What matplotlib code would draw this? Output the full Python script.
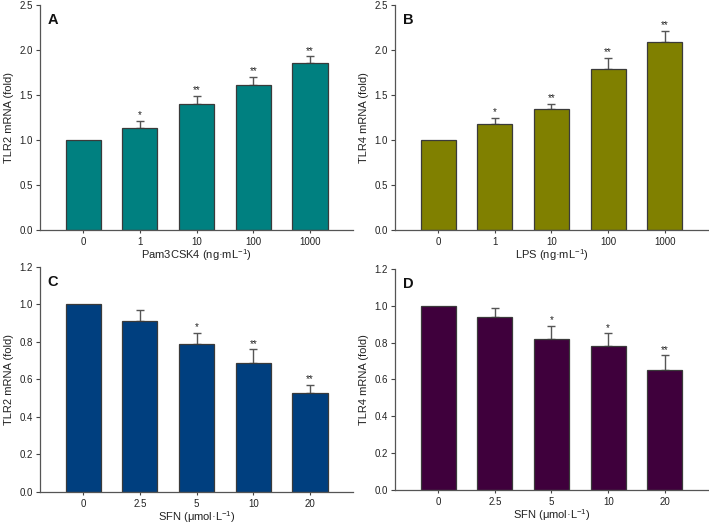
import matplotlib
matplotlib.use("Agg")
import matplotlib.pyplot as plt
import numpy as np

plt.rcParams['font.family'] = ['Liberation Sans', 'DejaVu Sans']
plt.rcParams['mathtext.fontset'] = 'custom'
plt.rcParams['mathtext.rm'] = 'Liberation Sans'
plt.rcParams['mathtext.it'] = 'Liberation Sans:italic'

# Panel A
cats_a = ["0", "1", "10", "100", "1000"]
vals_a = [1.0, 1.13, 1.40, 1.61, 1.86]
err_a = [0.0, 0.08, 0.09, 0.09, 0.07]
sig_a = ["", "*", "**", "**", "**"]

# Panel B
cats_b = ["0", "1", "10", "100", "1000"]
vals_b = [1.0, 1.18, 1.34, 1.79, 2.09]
err_b = [0.0, 0.07, 0.06, 0.12, 0.12]
sig_b = ["", "*", "**", "**", "**"]

# Panel C
cats_c = ["0", "2.5", "5", "10", "20"]
vals_c = [1.0, 0.91, 0.79, 0.69, 0.53]
err_c = [0.0, 0.06, 0.06, 0.07, 0.04]
sig_c = ["", "", "*", "**", "**"]

# Panel D
cats_d = ["0", "2.5", "5", "10", "20"]
vals_d = [1.0, 0.94, 0.82, 0.78, 0.65]
err_d = [0.0, 0.05, 0.07, 0.07, 0.08]
sig_d = ["", "", "*", "*", "**"]

fig = plt.figure(figsize=(7.09, 5.26), dpi=100)

panels = [
    ("A", [0.0564, 0.5627, 0.4416, 0.4278], cats_a, vals_a, err_a, sig_a, "#008080",
     "TLR2 mRNA (fold)", "Pam3CSK4 (ng·mL$^{-1}$)", 2.5, [0, 0.5, 1.0, 1.5, 2.0, 2.5]),
    ("B", [0.5571, 0.5627, 0.4415, 0.4278], cats_b, vals_b, err_b, sig_b, "#808000",
     "TLR4 mRNA (fold)", "LPS (ng·mL$^{-1}$)", 2.5, [0, 0.5, 1.0, 1.5, 2.0, 2.5]),
    ("C", [0.0564, 0.0650, 0.4416, 0.4274], cats_c, vals_c, err_c, sig_c, "#003F7F",
     "TLR2 mRNA (fold)", "SFN (μmol·L$^{-1}$)", 1.2, [0, 0.2, 0.4, 0.6, 0.8, 1.0, 1.2]),
    ("D", [0.5571, 0.0690, 0.4415, 0.4196], cats_d, vals_d, err_d, sig_d, "#3F003C",
     "TLR4 mRNA (fold)", "SFN (μmol·L$^{-1}$)", 1.2, [0, 0.2, 0.4, 0.6, 0.8, 1.0, 1.2]),
]

for letter, pos, cats, vals, errs, sigs, color, ylab, xlab, ymax, yticks in panels:
    ax = fig.add_axes(pos)
    x = np.arange(len(cats))
    ax.bar(x, vals, width=0.62, color=color, edgecolor="#3a3a3a", linewidth=0.9, zorder=2)
    for xi, v, e, s in zip(x, vals, errs, sigs):
        if e > 0:
            ax.errorbar(xi, v, yerr=[[0], [e]], fmt="none", ecolor="#555555",
                        elinewidth=1.0, capsize=3, capthick=1.0, zorder=1)
        if s:
            ax.text(xi, v + e + ymax * 0.003, s, ha="center", va="bottom",
                    fontsize=7, color="#222222")
    ax.set_xlim(-0.76, 4.76)
    ax.set_ylim(0, ymax)
    ax.set_yticks(yticks)
    ax.set_yticklabels([f"{t:.1f}" for t in yticks])
    ax.set_xticks(x)
    ax.set_xticklabels(cats)
    ax.tick_params(axis="both", labelsize=7, direction="out", length=3, width=0.8,
                   colors="#444444", labelcolor="#222222", pad=2)
    ax.tick_params(axis="x", length=2, pad=3)
    for sp in ["top", "right"]:
        ax.spines[sp].set_visible(False)
    for sp in ["left", "bottom"]:
        ax.spines[sp].set_color("#555555")
        ax.spines[sp].set_linewidth(0.9)
    ax.set_ylabel(ylab, fontsize=8, color="#222222", labelpad=4)
    ax.set_xlabel(xlab, fontsize=8, color="#222222", labelpad=0.5)
    ax.text(0.025, 0.965, letter, transform=ax.transAxes, fontsize=10.5,
            fontweight="bold", ha="left", va="top", color="#111111")

fig.savefig("out.png", dpi=100)
